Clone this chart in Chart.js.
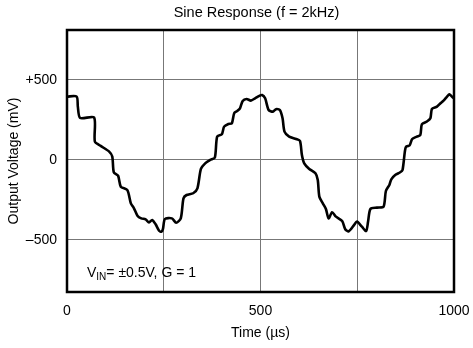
<!DOCTYPE html>
<html>
<head>
<meta charset="utf-8">
<script src="https://cdn.jsdelivr.net/npm/chart.js@4"></script>
<style>
  html, body { margin: 0; padding: 0; background: #fff; }
  #wrap { width: 473px; height: 348px; }
</style>
</head>
<body>
<div id="wrap"><canvas id="sineChart" width="473" height="348"></canvas></div>
<script>
const timeUs = [0, 25, 28, 34, 70, 72, 87, 109, 117, 121, 132, 139, 156, 165, 173, 182, 192, 203, 212, 220,
  229, 238, 244, 248, 253, 271, 282, 294, 301, 309, 326, 337, 346, 357, 370, 382, 388, 400, 406, 417,
  426, 432, 440, 447, 454, 464, 475, 486, 497, 504, 512, 521, 532, 540, 550, 557, 562, 574, 592, 602,
  607, 613, 626, 642, 648, 652, 661, 669, 676, 685, 695, 711, 719, 728, 742, 749, 762, 773, 778, 784,
  801, 818, 824, 833, 838, 848, 861, 867, 873, 876, 885, 892, 904, 913, 917, 930, 939, 943, 956, 965,
  973, 982, 988, 997, 1000];
const outputMv = [396, 396, 333, 262, 265, 115, 88, 52, 21, -77, -98, -167, -188, -271, -302, -348, -365, -371, -390, -375,
  -402, -442, -448, -430, -369, -365, -392, -365, -240, -219, -208, -177, -56, -21, 0, 15, 146, 160, 208, 225,
  229, 292, 306, 323, 369, 381, 371, 385, 400, 406, 385, 312, 302, 317, 312, 260, 177, 146, 131, 119,
  31, -21, -56, -83, -125, -229, -271, -306, -365, -327, -354, -381, -433, -446, -406, -385, -417, -444, -385, -306,
  -298, -292, -194, -156, -121, -94, -77, -63, 52, 83, 90, 131, 146, 156, 223, 240, 260, 319, 333, 354,
  371, 396, 410, 390, 385];

const xTicks = [0, 250, 500, 750, 1000];
const xTickLabels = ['0', '', '500', '', '1000'];
const yTicks = [-500, 0, 500];
const yTickLabels = ['\u2013500', '0', '+500'];

const FONT = 'Liberation Sans, Arial, Helvetica, sans-serif';

// frame round the plot area, the title and the V_IN note
const framePlugin = {
  id: 'frame',
  afterDraw(chart) {
    const { ctx, chartArea: a } = chart;
    ctx.save();
    ctx.strokeStyle = '#000';
    ctx.lineWidth = 2.5;
    ctx.strokeRect(a.left, a.top, a.right - a.left, a.bottom - a.top);

    ctx.fillStyle = '#000';
    ctx.textAlign = 'center';
    ctx.textBaseline = 'middle';
    ctx.font = '14.5px ' + FONT;
    ctx.fillText('Sine Response (f = 2kHz)', (a.left + a.right) / 2 - 4, 13);

    ctx.textAlign = 'left';
    ctx.textBaseline = 'alphabetic';
    let x = a.left + 20;
    const y = 277;
    ctx.font = '14px ' + FONT;
    ctx.fillText('V', x, y);
    x += ctx.measureText('V').width;
    ctx.font = '10px ' + FONT;
    ctx.fillText('IN', x, y + 3);
    x += ctx.measureText('IN').width;
    ctx.font = '14px ' + FONT;
    ctx.fillText('= \u00b10.5V, G = 1', x, y);
    ctx.restore();
  }
};

new Chart(document.getElementById('sineChart'), {
  type: 'line',
  data: {
    datasets: [{
      data: timeUs.map((t, i) => ({ x: t, y: outputMv[i] })),
      borderColor: '#000',
      borderWidth: 2.6,
      pointRadius: 0,
      tension: 0.25,
      fill: false
    }]
  },
  options: {
    responsive: false,
    animation: false,
    layout: { padding: { left: 0, right: 19, top: 30, bottom: 0 } },
    plugins: {
      legend: { display: false },
      tooltip: { enabled: false },
      title: { display: false }
    },
    scales: {
      x: {
        type: 'linear',
        min: 0,
        max: 1000,
        afterBuildTicks: axis => { axis.ticks = xTicks.map(v => ({ value: v })); },
        afterFit: axis => { axis.height = 56; axis.paddingLeft = 0; axis.paddingRight = 0; },
        ticks: {
          color: '#000',
          font: { family: FONT, size: 14 },
          padding: 11,
          maxRotation: 0,
          callback: (v) => xTickLabels[xTicks.indexOf(v)]
        },
        grid: { color: '#777', lineWidth: 1, drawTicks: false },
        border: { display: false },
        title: {
          display: true,
          text: 'Time (\u00b5s)',
          color: '#000',
          font: { family: FONT, size: 14 },
          padding: { top: 0, bottom: 6 }
        }
      },
      y: {
        min: -825,
        max: 812,
        afterBuildTicks: axis => { axis.ticks = yTicks.map(v => ({ value: v })); },
        afterFit: axis => { axis.width = 67; axis.paddingTop = 0; axis.paddingBottom = 0; },
        ticks: {
          color: '#000',
          font: { family: FONT, size: 14 },
          padding: 10,
          callback: (v) => yTickLabels[yTicks.indexOf(v)]
        },
        grid: { color: '#777', lineWidth: 1, drawTicks: false },
        border: { display: false },
        title: {
          display: true,
          text: 'Output Voltage (mV)',
          color: '#000',
          font: { family: FONT, size: 14 },
          padding: { top: 6, bottom: 0 }
        }
      }
    }
  },
  plugins: [framePlugin]
});
</script>
</body>
</html>
